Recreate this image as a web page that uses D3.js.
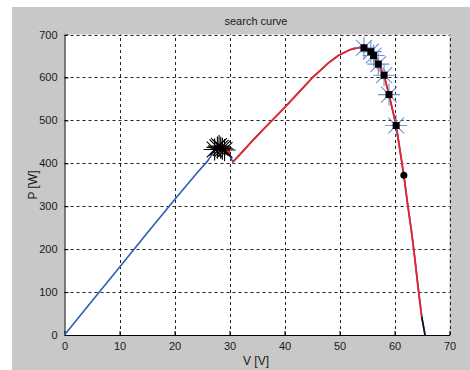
<!DOCTYPE html>
<html>
<head>
<meta charset="utf-8">
<script src="https://cdn.jsdelivr.net/npm/d3@7"></script>
<style>
  body { margin: 0; background: #fff; }
  text { font-family: "Liberation Sans", Arial, sans-serif; fill: #1a1a1a; }
</style>
</head>
<body>
<svg id="chart" width="470" height="370"></svg>
<script>
// full P-V curve (blue)
var curveV = [0, 5, 10, 15, 20, 24, 26, 27.3, 28.3, 29.3, 29.9, 30.6, 32, 33.7, 36, 39.8, 42, 45.2, 48, 49.8, 52, 53.7, 54.5, 55.7, 56.2, 57.05, 58.1, 59, 60.3, 61.7, 62.4, 63.1, 63.7, 64.3, 64.95, 65.55];
var curveP = [0, 79, 158, 237, 315, 376, 405, 430, 438, 432, 424, 403, 422, 446, 477, 527, 557, 601, 634, 651, 665, 670, 669, 660, 651, 631, 605, 560, 488, 372, 303, 240, 178, 110, 43, 0];

// search path (red) and last step (black)
var searchV = [30.6, 32, 33.7, 36, 39.8, 42, 45.2, 48, 49.8, 52, 53.7, 54.5, 55.7, 56.2, 57.05, 58.1, 59, 60.3, 61.7, 62.4, 63.1, 63.7, 64.3, 64.95];
var searchP = [403, 422, 446, 477, 527, 557, 601, 634, 651, 665, 670, 669, 660, 651, 631, 605, 560, 488, 372, 303, 240, 178, 110, 43];
var lastV = [64.95, 65.55];
var lastP = [43, 0];

// particles
var blobV = [28.0, 28.5, 29.0, 29.5];
var blobP = [437, 437, 433, 428];
var starV = [27.3, 27.8, 28.1, 28.4, 28.7, 29.1];
var starP = [432, 437, 440, 436, 434, 431];
var squareV = [54.45, 55.7, 56.2, 57.05, 58.1, 59.0, 60.3];
var squareP = [669, 660, 651, 631, 605, 560, 488];
var circleV = [61.7];
var circleP = [372];

var xTicks = [0, 10, 20, 30, 40, 50, 60, 70];
var yTicks = [0, 100, 200, 300, 400, 500, 600, 700];

var svg = d3.select('#chart');

// figure background
svg.append('rect')
  .attr('x', 12).attr('y', 7)
  .attr('width', 458).attr('height', 363)
  .attr('fill', '#c8c8c8');

var x = d3.scaleLinear().domain([0, 70]).range([64.5, 449.5]);
var y = d3.scaleLinear().domain([0, 700]).range([335, 34.5]);

svg.append('rect')
  .attr('x', x(0)).attr('y', y(700))
  .attr('width', x(70) - x(0)).attr('height', y(0) - y(700))
  .attr('fill', '#fff');

// grid
var grid = svg.append('g').attr('stroke', '#222').attr('stroke-width', 1).attr('stroke-dasharray', '3,3');
grid.selectAll('.gx').data(xTicks.slice(1))
  .enter().append('line')
  .attr('x1', function(d){ return Math.round(x(d)) + 0.5; })
  .attr('x2', function(d){ return Math.round(x(d)) + 0.5; })
  .attr('y1', y(0)).attr('y2', y(700));
grid.selectAll('.gy').data(yTicks.slice(1))
  .enter().append('line')
  .attr('y1', function(d){ return Math.round(y(d)) + 0.5; })
  .attr('y2', function(d){ return Math.round(y(d)) + 0.5; })
  .attr('x1', x(0)).attr('x2', x(70));

// axes
var xAxis = svg.append('g')
  .attr('transform', 'translate(0,' + y(0) + ')')
  .call(d3.axisBottom(x).tickValues(xTicks).tickSizeInner(-4).tickSizeOuter(0).tickPadding(7));
var yAxis = svg.append('g')
  .attr('transform', 'translate(' + x(0) + ',0)')
  .call(d3.axisLeft(y).tickValues(yTicks).tickSizeInner(-4).tickSizeOuter(0).tickPadding(7));
[xAxis, yAxis].forEach(function(a){
  a.select('.domain').attr('stroke', '#000');
  a.selectAll('.tick line').attr('stroke', '#000');
  a.selectAll('.tick text').attr('font-size', '11px').attr('fill', '#1a1a1a')
    .style('font-family', '"Liberation Sans", Arial, sans-serif');
});

// curves
var line = d3.line()
  .x(function(d){ return x(d[0]); })
  .y(function(d){ return y(d[1]); });
var zip = function(a, b){ return a.map(function(v, i){ return [v, b[i]]; }); };

svg.append('path').datum(zip(curveV, curveP))
  .attr('d', line).attr('fill', 'none')
  .attr('stroke', '#2d5fb4').attr('stroke-width', 1.6);
svg.append('path').datum(zip(searchV, searchP))
  .attr('d', line).attr('fill', 'none')
  .attr('stroke', '#ee2028').attr('stroke-width', 1.8);
svg.append('path').datum(zip(lastV, lastP))
  .attr('d', line).attr('fill', 'none')
  .attr('stroke', '#111').attr('stroke-width', 1.6);

// asterisk marker
var asterisk = function(r){
  var d = r * 0.72;
  return 'M' + (-r) + ',0L' + r + ',0M0,' + (-r) + 'L0,' + r +
    'M' + (-d) + ',' + (-d) + 'L' + d + ',' + d +
    'M' + (-d) + ',' + d + 'L' + d + ',' + (-d);
};

// blue particles around the peak
svg.selectAll('.bstar').data(zip(squareV, squareP))
  .enter().append('path')
  .attr('transform', function(d){ return 'translate(' + x(d[0]) + ',' + y(d[1]) + ')'; })
  .attr('d', asterisk(11))
  .attr('fill', 'none').attr('stroke', '#5a80c8').attr('stroke-width', 1.1).attr('opacity', 0.85);

svg.selectAll('.sq').data(zip(squareV, squareP))
  .enter().append('rect')
  .attr('x', function(d){ return x(d[0]) - 3.5; })
  .attr('y', function(d){ return y(d[1]) - 3.5; })
  .attr('width', 7).attr('height', 7)
  .attr('fill', '#000');

svg.selectAll('.circ').data(zip(circleV, circleP))
  .enter().append('circle')
  .attr('cx', function(d){ return x(d[0]); })
  .attr('cy', function(d){ return y(d[1]); })
  .attr('r', 3.5).attr('fill', '#000');

// particles around the local peak
svg.selectAll('.blob').data(zip(blobV, blobP))
  .enter().append('circle')
  .attr('cx', function(d){ return x(d[0]); })
  .attr('cy', function(d){ return y(d[1]); })
  .attr('r', 3.5).attr('fill', '#e8202a');

svg.selectAll('.kstar').data(zip(starV, starP))
  .enter().append('path')
  .attr('transform', function(d){ return 'translate(' + x(d[0]) + ',' + y(d[1]) + ')'; })
  .attr('d', asterisk(11))
  .attr('fill', 'none').attr('stroke', '#000').attr('stroke-width', 1.1);

// labels
svg.append('text')
  .attr('x', 256).attr('y', 25)
  .attr('text-anchor', 'middle').attr('font-size', '11px')
  .text('search curve');
svg.append('text')
  .attr('x', 256).attr('y', 365)
  .attr('text-anchor', 'middle').attr('font-size', '12px')
  .text('V [V]');
svg.append('text')
  .attr('transform', 'translate(37,185) rotate(-90)')
  .attr('text-anchor', 'middle').attr('font-size', '12px')
  .text('P [W]');
</script>
</body>
</html>
